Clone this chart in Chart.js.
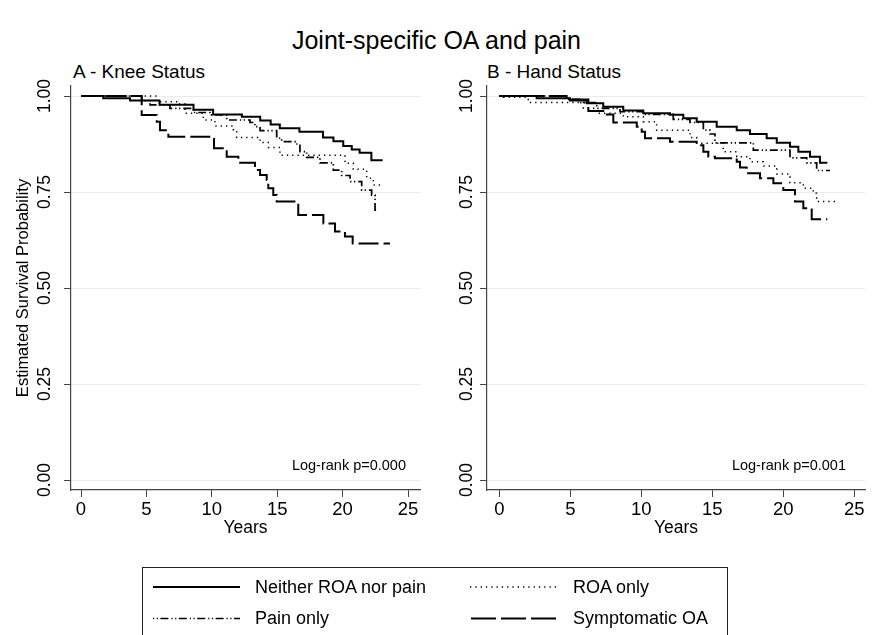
<!DOCTYPE html>
<html>
<head>
<meta charset="utf-8">
<script src="https://cdn.jsdelivr.net/npm/chart.js@4.4.0/dist/chart.umd.min.js"></script>
<style>
  body { margin: 0; background: #fff; font-family: "Liberation Sans", Arial, sans-serif; color: #000; }
  #page { position: relative; width: 875px; height: 635px; overflow: hidden; }
  .txt { position: absolute; white-space: nowrap; }
  canvas { position: absolute; top: 0; }
  #legend { position: absolute; left: 142px; top: 567px; width: 584px; height: 80px; border: 1.5px solid #222; }
</style>
</head>
<body>
<div id="page">
  <div class="txt" style="left:0;top:26px;width:873px;text-align:center;font-size:25px;line-height:28px">Joint-specific OA and pain</div>
  <div class="txt" style="left:73px;top:62px;font-size:19px;line-height:19px">A - Knee Status</div>
  <div class="txt" style="left:487px;top:62px;font-size:19px;line-height:19px">B - Hand Status</div>

  <canvas id="kneeChart" width="437" height="560" style="left:0"></canvas>
  <canvas id="handChart" width="438" height="560" style="left:437px"></canvas>

  <div class="txt" style="right:469px;top:458px;font-size:14.5px;line-height:14px">Log-rank p=0.000</div>
  <div class="txt" style="right:29px;top:458px;font-size:14.5px;line-height:14px">Log-rank p=0.001</div>

  <div id="legend"></div>
  <svg style="position:absolute;left:0;top:0" width="875" height="635">
    <g stroke="#000" fill="none">
      <line x1="153" y1="587" x2="240" y2="587" stroke-width="2"/>
      <line x1="470" y1="587" x2="558" y2="587" stroke-width="1.4" stroke-dasharray="1.3 4"/>
      <line x1="153" y1="618.5" x2="240" y2="618.5" stroke-width="1.5" stroke-dasharray="1.2 2.5 1.2 2.5 8 3"/>
      <line x1="471" y1="618.5" x2="557" y2="618.5" stroke-width="2" stroke-dasharray="25 5"/>
    </g>
  </svg>
  <div class="txt" style="left:255px;top:577px;font-size:18px;line-height:20px">Neither ROA nor pain</div>
  <div class="txt" style="left:573px;top:577px;font-size:18px;line-height:20px">ROA only</div>
  <div class="txt" style="left:255px;top:608px;font-size:18px;line-height:20px">Pain only</div>
  <div class="txt" style="left:573px;top:608px;font-size:18px;line-height:20px">Symptomatic OA</div>
</div>

<script>
// Kaplan-Meier curves: time (years) and survival estimate
const legendLabels = ["Neither ROA nor pain", "ROA only", "Pain only", "Symptomatic OA"];
const yearTicks = [0, 5, 10, 15, 20, 25];
const probTicks = [0, 0.25, 0.5, 0.75, 1];

// A - Knee
const kneeNeitherT = [0, 1.7, 3.75, 6.0, 8.6, 10.1, 12.3, 13.7, 14.5, 15.2, 16.7, 18.5, 19.3, 20.05, 20.7, 21.3, 22.2, 23.06];
const kneeNeitherS = [1, 0.994, 0.988, 0.977, 0.964, 0.952, 0.946, 0.936, 0.926, 0.916, 0.907, 0.892, 0.882, 0.870, 0.861, 0.852, 0.833, 0.833];
const kneeRoaT = [0, 5.8, 7.44, 7.95, 9.35, 10.24, 11.65, 11.9, 13.69, 14.32, 15.21, 20.18, 20.82, 21.84, 22.35, 23.11];
const kneeRoaS = [1, 0.985, 0.979, 0.955, 0.9375, 0.922, 0.907, 0.892, 0.879, 0.866, 0.846, 0.825, 0.809, 0.786, 0.768, 0.768];
const kneePainT = [0, 4.64, 5.28, 6.8, 8.59, 9.86, 11.14, 12.92, 13.3, 13.69, 14.96, 15.34, 16.36, 16.74, 17.25, 18.27, 19.29, 19.93, 20.57, 21.46, 22.22, 22.48, 22.73];
const kneePainS = [1, 0.988, 0.977, 0.968, 0.957, 0.951, 0.9375, 0.931, 0.920, 0.910, 0.890, 0.881, 0.875, 0.855, 0.840, 0.826, 0.807, 0.793, 0.777, 0.755, 0.742, 0.703, 0.703];
const kneeSympT = [0, 4.64, 5.79, 6.04, 6.68, 10.17, 11.14, 12.03, 13.3, 13.69, 14.2, 14.32, 14.7, 14.96, 16.61, 18.53, 19.42, 20.18, 20.77, 23.62];
const kneeSympS = [1, 0.9505, 0.933, 0.911, 0.894, 0.864, 0.842, 0.826, 0.807, 0.794, 0.781, 0.760, 0.742, 0.725, 0.690, 0.668, 0.647, 0.634, 0.616, 0.616];

// B - Hand
const handNeitherT = [0, 2.63, 4.98, 6.15, 7.32, 8.73, 10.14, 12.02, 12.96, 13.9, 15.31, 16.72, 17.65, 18.83, 19.54, 20.47, 21.06, 21.88, 22.58, 23.1];
const handNeitherS = [1, 0.994, 0.988, 0.981, 0.972, 0.962, 0.955, 0.951, 0.942, 0.933, 0.920, 0.911, 0.901, 0.890, 0.878, 0.868, 0.855, 0.842, 0.826, 0.826];
const handRoaT = [0, 0.28, 2.04, 5.92, 6.86, 8.73, 10.14, 11.08, 13.43, 13.9, 15.77, 16.72, 17.65, 18.59, 19.54, 20.47, 21.41, 22.11, 22.35, 23.76];
const handRoaS = [1, 0.9965, 0.983, 0.968, 0.955, 0.946, 0.933, 0.911, 0.892, 0.877, 0.855, 0.842, 0.829, 0.818, 0.797, 0.774, 0.760, 0.747, 0.725, 0.725];
const handPainT = [0, 4.74, 5.68, 6.86, 8.5, 10.14, 12.25, 13.43, 14.37, 14.84, 15.19, 17.89, 20.47, 21.65, 22.35, 23.29];
const handPainS = [1, 0.991, 0.983, 0.968, 0.959, 0.952, 0.939, 0.931, 0.911, 0.901, 0.878, 0.859, 0.839, 0.826, 0.806, 0.806];
const handSympT = [0, 4.74, 6.27, 7.32, 8.03, 9.68, 10.03, 10.26, 12.02, 13.9, 14.37, 14.72, 15.19, 16.72, 16.95, 17.42, 18.36, 19.3, 20.0, 20.82, 21.41, 22.0, 23.1];
const handSympS = [1, 0.991, 0.961, 0.952, 0.931, 0.920, 0.907, 0.890, 0.881, 0.872, 0.855, 0.842, 0.838, 0.829, 0.814, 0.799, 0.786, 0.773, 0.755, 0.725, 0.708, 0.679, 0.679];

const FONT = "'Liberation Sans', Arial, sans-serif";
// line looks, same order as legendLabels
const lineLooks = [
  { width: 2, dash: [] },
  { width: 1.5, dash: [1.3, 4] },
  { width: 1.7, dash: [8, 3, 1.3, 2.5, 1.3, 3] },
  { width: 2, dash: [20, 5] }
];

function kmChart(id, curves, o) {
  const datasets = curves.map(([t, s], i) => ({
    label: legendLabels[i],
    data: t.map((x, j) => ({ x, y: s[j] })),
    borderColor: "#000",
    borderWidth: lineLooks[i].width,
    borderDash: lineLooks[i].dash,
    stepped: true,
    pointRadius: 0,
    fill: false
  }));

  return new Chart(document.getElementById(id), {
    type: "line",
    data: { datasets },
    options: {
      responsive: false,
      animation: false,
      layout: { padding: { left: o.padLeft, right: o.padRight, top: 86, bottom: 21 } },
      plugins: { legend: { display: false }, tooltip: { enabled: false } },
      scales: {
        x: {
          type: "linear",
          min: o.xMin,
          max: o.xMax,
          afterBuildTicks: sc => { sc.ticks = yearTicks.map(v => ({ value: v })); },
          afterFit: sc => { sc.height = 49; },
          grid: { drawOnChartArea: false, tickLength: 7, tickColor: "#444" },
          border: { color: "#444", width: 1.2 },
          ticks: { color: "#000", font: { family: FONT, size: 18.5 }, padding: 2, maxRotation: 0, autoSkip: false },
          title: { display: true, text: "Years", color: "#000", font: { family: FONT, size: 17.5 }, padding: 0 }
        },
        y: {
          type: "linear",
          min: -10 / 384,
          max: 1 + 10 / 384,
          afterBuildTicks: sc => { sc.ticks = probTicks.map(v => ({ value: v })); },
          afterFit: sc => { sc.width = o.yWidth; },
          grid: { color: "#ebebeb", lineWidth: 1, tickLength: 7, tickColor: "#444" },
          border: { color: "#444", width: 1.2 },
          ticks: {
            color: "#000",
            font: { family: FONT, size: 17.5 },
            minRotation: 90,
            maxRotation: 90,
            crossAlign: "center",
            padding: o.yTickPad,
            autoSkip: false,
            callback: v => v.toFixed(2)
          },
          title: {
            display: o.yTitle,
            text: "Estimated Survival Probability",
            color: "#000",
            font: { family: FONT, size: 16.5 },
            padding: { top: 4, bottom: 0 }
          }
        }
      }
    }
  });
}

kmChart("kneeChart", [
  [kneeNeitherT, kneeNeitherS],
  [kneeRoaT, kneeRoaS],
  [kneePainT, kneePainS],
  [kneeSympT, kneeSympS]
], { padLeft: 10, padRight: 17, yWidth: 61, yTickPad: 1.5, yTitle: true, xMin: -10 / 13.08, xMax: 339 / 13.08 });

kmChart("handChart", [
  [handNeitherT, handNeitherS],
  [handRoaT, handRoaS],
  [handPainT, handPainS],
  [handSympT, handSympS]
], { padLeft: 0, padRight: 10, yWidth: 50, yTickPad: -4.5, yTitle: false, xMin: -12.3 / 14.2, xMax: 365.7 / 14.2 });
</script>
</body>
</html>
